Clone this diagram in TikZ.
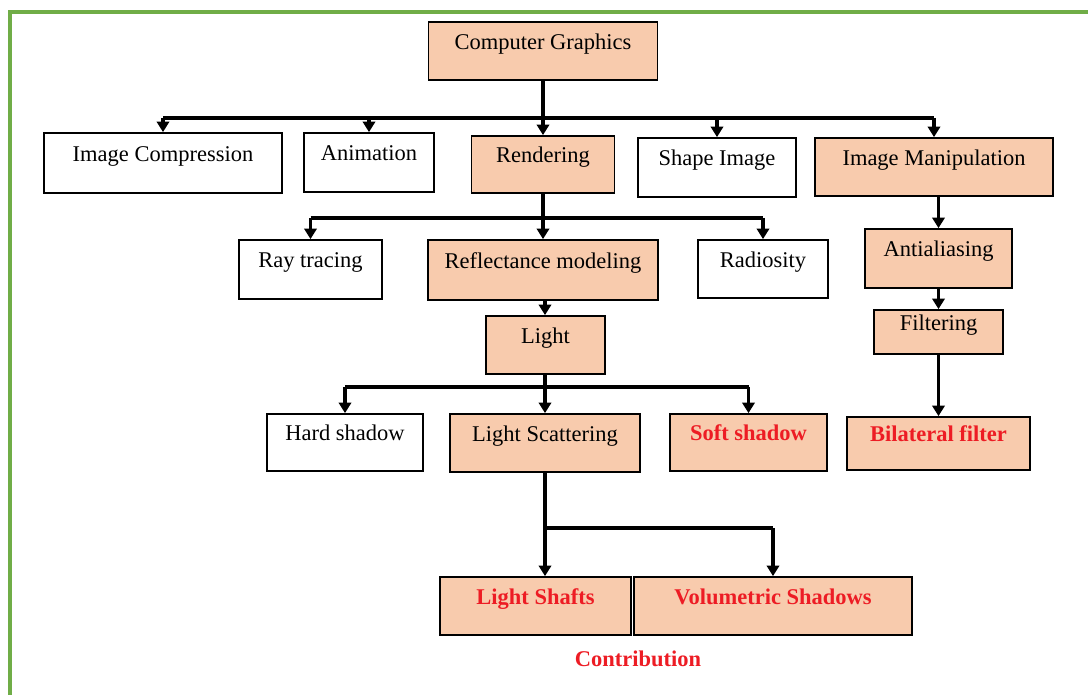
\documentclass[tikz,border=0pt]{standalone}
\usepackage{fontspec}
\setmainfont{Liberation Serif}
\usetikzlibrary{arrows.meta}
\definecolor{boxfill}{RGB}{248,203,173}
\definecolor{contribred}{RGB}{237,28,36}
\definecolor{framegreen}{RGB}{112,173,71}

\begin{document}
\begin{tikzpicture}[x=0.02cm,y=-0.02cm,
    box/.style={draw, line width=1pt, inner sep=2pt, text height=7pt, text depth=9pt,
      font=\fontsize{12.8}{15}\selectfont},
    hl/.style={box, fill=boxfill},
    hlred/.style={hl, text=contribred, font=\fontsize{12.8}{15}\selectfont\bfseries},
    wire/.style={line width=2.2pt},
    arr/.style={line width=2.2pt, -{Triangle[length=6pt,width=7pt]}}]
  \useasboundingbox (0,0) rectangle (1088,695);
  \draw[draw=framegreen, line width=2.3pt] (10,695) -- (10,12) -- (1088,12);

  \node[hl, minimum width=4.58cm, minimum height=1.16cm] (cg) at (543,51) {Computer Graphics};

  \node[box, minimum width=4.76cm, minimum height=1.2cm] (imc) at (163,163) {Image Compression};
  \node[box, minimum width=2.6cm, minimum height=1.18cm] (anim) at (369,162.5) {Animation};
  \node[hl, minimum width=2.86cm, minimum height=1.14cm] (rend) at (543,164.5) {Rendering};
  \node[box, minimum width=3.16cm, minimum height=1.18cm] (shape) at (717,167.5) {Shape Image};
  \node[hl, minimum width=4.76cm, minimum height=1.16cm] (imm) at (934,167) {Image Manipulation};

  \node[box, minimum width=2.86cm, minimum height=1.18cm] (ray) at (310.5,269.5) {Ray tracing};
  \node[hl, minimum width=4.6cm, minimum height=1.2cm] (refl) at (543,270) {Reflectance modeling};
  \node[box, minimum width=2.6cm, minimum height=1.16cm] (rad) at (763,269) {Radiosity};
  \node[hl, minimum width=2.38cm, minimum height=1.16cm] (light) at (545.5,345) {Light};

  \node[hl, minimum width=2.94cm, minimum height=1.18cm] (anti) at (938.5,258.5) {Antialiasing};
  \node[hl, minimum width=2.58cm, minimum height=0.88cm] (filt) at (938.5,332) {Filtering};

  \node[box, minimum width=3.12cm, minimum height=1.14cm] (hard) at (345,442.5) {Hard shadow};
  \node[hl, minimum width=3.8cm, minimum height=1.16cm] (scat) at (545,443) {Light Scattering};
  \node[hlred, minimum width=3.14cm, minimum height=1.14cm] (soft) at (748.5,442.5) {Soft shadow};
  \node[hlred, minimum width=3.66cm, minimum height=1.06cm] (bil) at (938.5,443.5) {Bilateral filter};

  \node[hlred, minimum width=3.82cm, minimum height=1.16cm] (shafts) at (535.5,606) {Light Shafts};
  \node[hlred, minimum width=5.56cm, minimum height=1.16cm] (vol) at (773,606) {Volumetric Shadows};
  \node[text=contribred, font=\fontsize{12.8}{15}\selectfont\bfseries] (contrib) at (638,659) {Contribution};

  \coordinate (bus1) at (543,118);
  \coordinate (bus2) at (543,218);
  \coordinate (bus3) at (545,387);
  \coordinate (bus4) at (545,528);

  \draw[wire] (cg.south) -- (cg.south |- bus1);
  \draw[wire] (bus1 -| imc) -- (bus1 -| imm);
  \foreach \n in {imc,anim,rend,shape,imm}
    \draw[arr] (bus1 -| \n) -- (\n.north);

  \draw[wire] (rend.south) -- (rend.south |- bus2);
  \draw[wire] (bus2 -| ray) -- (bus2 -| rad);
  \foreach \n in {ray,refl,rad}
    \draw[arr] (bus2 -| \n) -- (\n.north);
  \draw[arr] (refl.south -| bus3) -- (bus3 |- light.north);

  \draw[wire] (bus3 |- light.south) -- (bus3);
  \draw[wire] (bus3 -| hard) -- (bus3 -| soft);
  \foreach \n in {hard,scat,soft}
    \draw[arr] (bus3 -| \n) -- (\n.north);

  \draw[wire] (scat.south) -- (bus4);
  \draw[wire] (bus4) -- (bus4 -| vol);
  \draw[arr] (bus4) -- (bus4 |- shafts.north);
  \draw[arr] (bus4 -| vol) -- (vol.north);

  \draw[arr] (anti.north |- imm.south) -- (anti.north);
  \draw[arr] (anti.south) -- (filt.north);
  \draw[arr] (filt.south) -- (bil.north);
\end{tikzpicture}
\end{document}
